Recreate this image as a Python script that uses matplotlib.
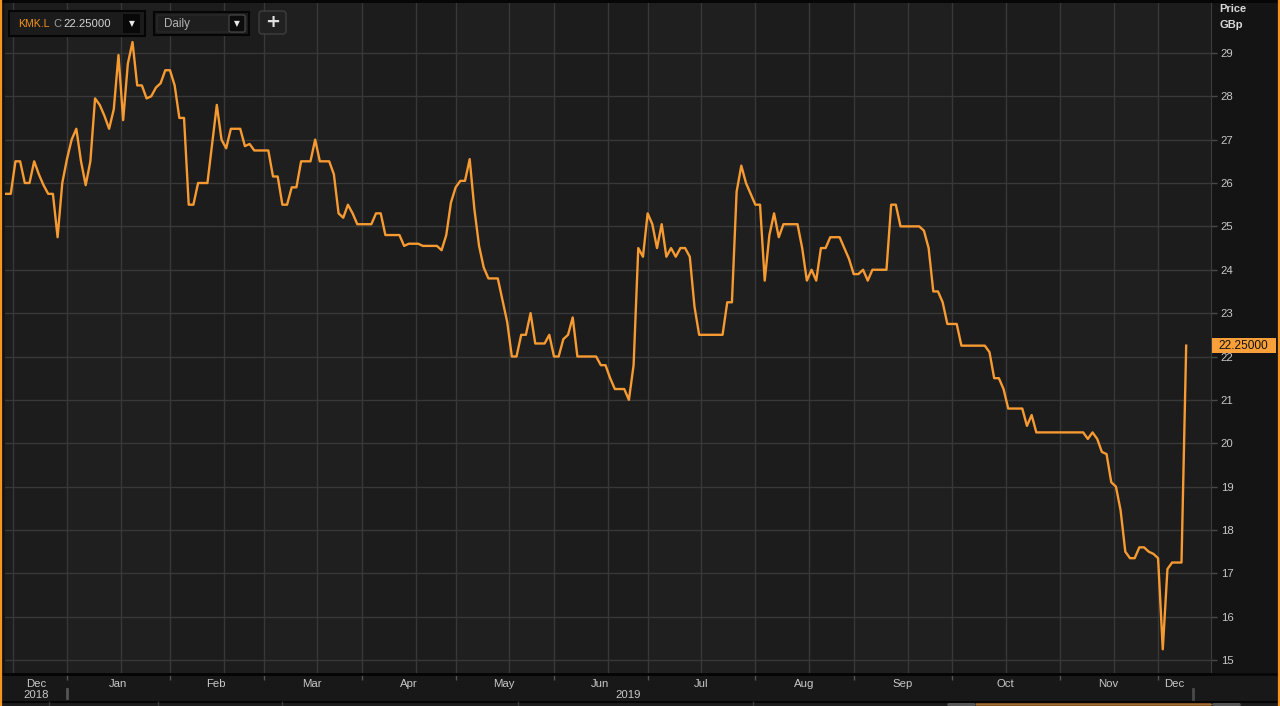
import numpy as np
import pandas as pd
import matplotlib
matplotlib.use('Agg')
import matplotlib.pyplot as plt
import matplotlib.transforms as mtrans
from matplotlib.patches import Rectangle, FancyBboxPatch
from matplotlib.lines import Line2D

plt.rcParams['font.family'] = ['Liberation Sans', 'DejaVu Sans']

# ---------------------------------------------------------------
# Data: KMK.L daily close (GBp), UK trading days
# ---------------------------------------------------------------
TICKER = 'KMK.L'
INTERVAL = 'Daily'
UNIT = 'GBp'
START, END = '2018-12-11', '2019-12-10'
UK_HOLIDAYS = ['2018-12-25', '2018-12-26', '2019-01-01', '2019-04-19',
               '2019-04-22', '2019-05-06', '2019-05-27', '2019-08-26']

CLOSE_DEC18 = [25.75, 25.75, 26.5, 26.5, 26.0, 26.0, 26.5, 26.2, 25.95, 25.75,
               25.75, 24.75, 26.0]
CLOSE_JAN = [26.55, 27.0, 27.25, 26.5, 25.95, 26.5, 27.95, 27.8, 27.55, 27.25,
             27.7, 28.95, 27.45, 28.75, 29.25, 28.25, 28.25, 27.95, 28.0, 28.2,
             28.3, 28.6]
CLOSE_FEB = [28.6, 28.25, 27.5, 27.5, 25.5, 25.5, 26.0, 26.0, 26.0, 26.9,
             27.8, 27.0, 26.8, 27.25, 27.25, 27.25, 26.85, 26.9, 26.75, 26.75]
CLOSE_MAR = [26.75, 26.75, 26.15, 26.15, 25.5, 25.5, 25.9, 25.9, 26.5, 26.5,
             26.5, 27.0, 26.5, 26.5, 26.5, 26.2, 25.3, 25.2, 25.5, 25.3, 25.05]
CLOSE_APR = [25.05, 25.05, 25.05, 25.3, 25.3, 24.8, 24.8, 24.8, 24.8, 24.55,
             24.6, 24.6, 24.6, 24.55, 24.55, 24.55, 24.55, 24.45, 24.8, 25.55]
CLOSE_MAY = [25.9, 26.05, 26.05, 26.55, 25.4, 24.55, 24.05, 23.8, 23.8, 23.8,
             23.3, 22.8, 22.0, 22.0, 22.5, 22.5, 23.0, 22.3, 22.3, 22.3, 22.5]
CLOSE_JUN = [22.0, 22.0, 22.4, 22.5, 22.9, 22.0, 22.0, 22.0, 22.0, 22.0,
             21.8, 21.8, 21.5, 21.25, 21.25, 21.25, 21.0, 21.8, 24.5, 24.3]
CLOSE_JUL = [25.3, 25.05, 24.5, 25.05, 24.3, 24.5, 24.3, 24.5, 24.5, 24.3,
             23.15, 22.5, 22.5, 22.5, 22.5, 22.5, 22.5, 23.25, 23.25, 25.8,
             26.4, 26.0, 25.75]
CLOSE_AUG = [25.5, 25.5, 23.75, 24.8, 25.3, 24.75, 25.05, 25.05, 25.05, 25.05,
             24.5, 23.75, 24.0, 23.75, 24.5, 24.5, 24.75, 24.75, 24.75, 24.5,
             24.25]
CLOSE_SEP = [23.9, 23.9, 24.0, 23.75, 24.0, 24.0, 24.0, 24.0, 25.5, 25.5,
             25.0, 25.0, 25.0, 25.0, 25.0, 24.9, 24.5, 23.5, 23.5, 23.25, 22.75]
CLOSE_OCT = [22.75, 22.75, 22.25, 22.25, 22.25, 22.25, 22.25, 22.25, 22.1,
             21.5, 21.5, 21.25, 20.8, 20.8, 20.8, 20.8, 20.4, 20.65, 20.25,
             20.25, 20.25, 20.25, 20.25]
CLOSE_NOV = [20.25, 20.25, 20.25, 20.25, 20.25, 20.25, 20.1, 20.25, 20.1,
             19.8, 19.75, 19.1, 19.0, 18.45, 17.5, 17.35, 17.35, 17.6, 17.6,
             17.5, 17.45]
CLOSE_DEC19 = [17.35, 15.25, 17.1, 17.25, 17.25, 17.25, 22.25]

CLOSE = (CLOSE_DEC18 + CLOSE_JAN + CLOSE_FEB + CLOSE_MAR + CLOSE_APR +
         CLOSE_MAY + CLOSE_JUN + CLOSE_JUL + CLOSE_AUG + CLOSE_SEP +
         CLOSE_OCT + CLOSE_NOV + CLOSE_DEC19)

Y_TICKS = list(range(15, 30))

# ---------------------------------------------------------------
# Colours
# ---------------------------------------------------------------
ORANGE = '#f7941d'
LINE = '#f69a31'
FIG_BG = '#141414'
BAND_A = '#1c1c1c'
BAND_B = '#1f1f1f'
GRID = '#383838'
TXT = '#c8c8c8'

dates = pd.bdate_range(START, END, freq='C', holidays=UK_HOLIDAYS)
x = np.arange(len(dates))
period = dates.to_period('M')
starts = np.flatnonzero(np.r_[True, period[1:] != period[:-1]])
ends = np.r_[starts[1:] - 1, len(dates) - 1]
centers = (starts + ends) / 2 + 0.4
month_names = [d.strftime('%b') for d in dates[starts]]
month_nums = [d.month for d in dates[starts]]

W, H = 1280, 706
fig = plt.figure(figsize=(W / 100, H / 100), dpi=100, facecolor=FIG_BG)
px = mtrans.Affine2D().scale(1 / W, -1 / H).translate(0, 1) + fig.transFigure


def rect(x0, y0, x1, y1, fc, ec='none', lw=0, z=-1, r=0):
    if r:
        p = FancyBboxPatch((x0, y0), x1 - x0, y1 - y0,
                           boxstyle=f'round,pad=0,rounding_size={r}',
                           fc=fc, ec=ec, lw=lw, transform=px, zorder=z)
    else:
        p = Rectangle((x0, y0), x1 - x0, y1 - y0, fc=fc, ec=ec, lw=lw,
                      transform=px, zorder=z)
    fig.add_artist(p)


def hline(x0, x1, y, c, lw=1, z=-1):
    fig.add_artist(Line2D([x0, x1], [y, y], color=c, lw=lw, transform=px, zorder=z))


def vline(x0, y0, y1, c, lw=1, z=-1):
    fig.add_artist(Line2D([x0, x0], [y0, y1], color=c, lw=lw, transform=px, zorder=z))


# background strips
rect(0, 0, W, 3, '#060606')
rect(0, 674, W, 702, '#181818')
rect(0, 702, W, H, '#1d1d1d')

# ---------------------------------------------------------------
# Main price axes
# ---------------------------------------------------------------
ax = fig.add_axes([5 / W, 1 - 674 / H, 1206 / W, 671 / H])
xmin, xmax = -0.23, 257.3
ax.set_xlim(xmin, xmax)
ax.set_ylim(14.68, 30.15)
ax.set_facecolor(BAND_A)

edges = np.r_[xmin, starts[1:], xmax]
for k in range(len(starts)):
    c = BAND_B if month_nums[k] % 2 == 1 else BAND_A
    ax.axvspan(edges[k], edges[k + 1], color=c, lw=0, zorder=0)

grid_x = sorted(list(starts[1:]) + list(starts[1:] + 11.5) + [starts[1] - 11.5])
for gx in grid_x:
    ax.axvline(gx, color=GRID, lw=1, zorder=1)
for gy in Y_TICKS:
    ax.axhline(gy, color=GRID, lw=1, zorder=1)

ax.plot(x, CLOSE, color=LINE, lw=1.7, zorder=3, solid_joinstyle='round')

for s in ['top', 'left']:
    ax.spines[s].set_visible(False)
ax.spines['right'].set_color('#3c3c3c')
ax.spines['bottom'].set_color('#050505')
ax.spines['bottom'].set_linewidth(1.8)

ax.yaxis.tick_right()
ax.set_yticks(Y_TICKS)
ax.set_yticklabels([str(v) for v in Y_TICKS])
ax.tick_params(axis='y', colors=TXT, labelsize=8.2, length=4, width=1,
               color='#4a4a4a', pad=3)

ax.set_xticks(starts[1:])
ax.set_xticklabels([])
ax.set_xticks(centers, minor=True)
ax.set_xticklabels(month_names, minor=True)
ax.tick_params(axis='x', which='major', length=4, width=1, color='#555555',
               direction='out')
ax.tick_params(axis='x', which='minor', length=0, pad=3.5, labelsize=8.2,
               labelcolor=TXT)

# year row
years = dates.year
for yr in np.unique(years):
    idx = np.flatnonzero(years == yr)
    ax.text((idx[0] + idx[-1]) / 2 + 0.4, -0.0315, str(yr),
            transform=ax.get_xaxis_transform(),
            ha='center', va='center', fontsize=8.2, color=TXT)
year_start = np.flatnonzero(years == years.max())[0]
ax.plot([year_start, year_start], [-0.022, -0.036], transform=ax.get_xaxis_transform(),
        color='#555555', lw=2, clip_on=False)
vline(1193, 689, 699, '#4a4a4a', lw=2, z=2)

# last price tag
last = CLOSE[-1]
tag_tr = mtrans.blended_transform_factory(ax.transAxes, ax.transData)
ax.add_patch(Rectangle((1.0005, last - 0.175), 0.0535, 0.35, transform=tag_tr,
                       fc='#f9a03a', ec='none', clip_on=False, zorder=6))
ax.text(1.027, last, f'{last:.5f}', transform=tag_tr, ha='center', va='center',
        fontsize=8.6, color='#111111', zorder=7, clip_on=False)

# price unit header
fig.text(1219, 9.5, 'Price', transform=px, fontsize=8, fontweight='bold',
         color='#d8d8d8', va='center')
fig.text(1219, 24.5, UNIT, transform=px, fontsize=8, fontweight='bold',
         color='#d8d8d8', va='center')

# ---------------------------------------------------------------
# Toolbar widgets
# ---------------------------------------------------------------
rect(9, 11, 145, 36, '#1b1b1b', ec='#050505', lw=1.5, z=5)
rect(123, 14, 140, 33, '#080808', z=6)
fig.text(131.5, 23.5, '▼', transform=px, fontsize=5.5, color='#e8e8e8',
         ha='center', va='center', family='DejaVu Sans', zorder=7)
fig.text(18, 24, TICKER, transform=px, fontsize=7.6,
         color=ORANGE, va='center', zorder=7)
fig.text(53.5, 24, 'C', transform=px, fontsize=8, color='#9a9a9a',
         va='center', zorder=7)
fig.text(63, 24, f'{last:.5f}', transform=px, fontsize=8.1, color='#d4d4d4',
         va='center', zorder=7)

rect(154, 12, 249, 35, '#1b1b1b', ec='#050505', lw=1.5, z=5)
rect(157, 15, 246, 32, '#1e1e1e', ec='#2c2c2c', lw=0.8, z=5, r=2)
rect(229, 15, 245, 32, '#0c0c0c', ec='#4a4a4a', lw=0.8, z=6, r=2)
fig.text(237, 23.5, '▼', transform=px, fontsize=5.5, color='#e8e8e8',
         ha='center', va='center', family='DejaVu Sans', zorder=7)
fig.text(164, 23.5, INTERVAL, transform=px, fontsize=8.4, color='#b4b4b4',
         va='center', zorder=7)

rect(259, 11, 286, 34, '#212121', ec='#3e3e3e', lw=1, z=5, r=3)
fig.text(272.5, 22, '+', transform=px, fontsize=13, fontweight='bold',
         color='#e0e0e0', ha='center', va='center', family='DejaVu Sans', zorder=7)

# ---------------------------------------------------------------
# Frame and navigator strip
# ---------------------------------------------------------------
hline(0, W, 674, '#050505', lw=1.8, z=4)
hline(0, W, 701.5, '#050505', lw=1.5, z=4)
rect(947, 703, 976, H, '#555555', z=4, r=2)
rect(976, 703, 1211, H, '#7a4e22', z=4)
hline(976, 1211, 703.5, '#a06a30', lw=1, z=4)
rect(1212, 703, 1241, H, '#555555', z=4, r=2)
for bx in [49, 158, 282, 518, 753]:
    vline(bx, 702, H, '#3a3a3a', lw=1, z=4)
vline(0.8, 0, H, ORANGE, lw=1.6, z=8)
vline(1279, 0, H, ORANGE, lw=1.6, z=8)

fig.savefig('out.png', dpi=100, facecolor=FIG_BG)
